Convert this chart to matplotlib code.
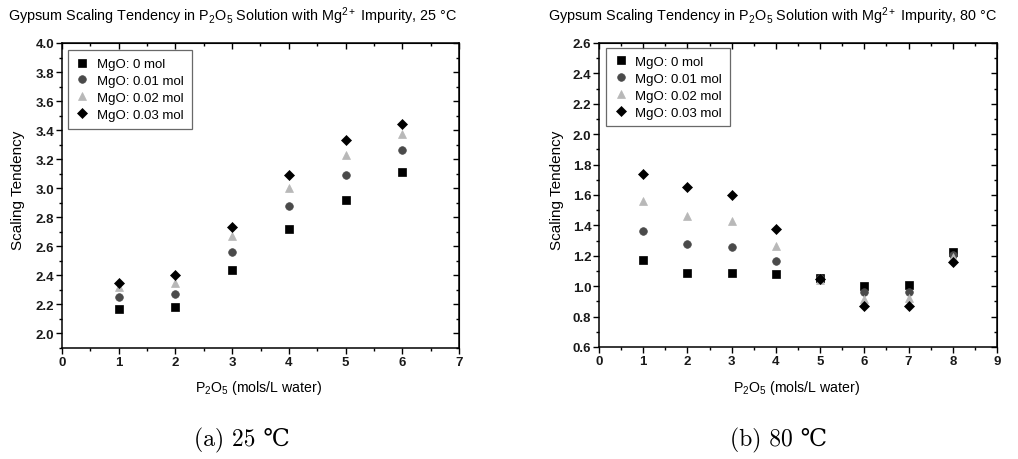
import matplotlib
matplotlib.use("Agg")
import matplotlib.pyplot as plt
from matplotlib.ticker import MultipleLocator

plt.rcParams['font.family'] = ['Liberation Sans', 'DejaVu Sans']
plt.rcParams['mathtext.fontset'] = 'custom'
plt.rcParams['mathtext.rm'] = 'Liberation Sans'
plt.rcParams['mathtext.it'] = 'Liberation Sans'

# ---------------- data ----------------
series_labels = ["MgO: 0 mol", "MgO: 0.01 mol", "MgO: 0.02 mol", "MgO: 0.03 mol"]

x_25 = [1, 2, 3, 4, 5, 6]
y25_mg000 = [2.17, 2.18, 2.44, 2.72, 2.92, 3.11]
y25_mg001 = [2.25, 2.27, 2.56, 2.875, 3.09, 3.26]
y25_mg002 = [2.32, 2.345, 2.67, 3.005, 3.23, 3.37]
y25_mg003 = [2.35, 2.40, 2.73, 3.09, 3.33, 3.44]

x_80 = [1, 2, 3, 4, 5, 6, 7, 8]
y80_mg000 = [1.175, 1.085, 1.085, 1.082, 1.055, 1.00, 1.007, 1.227]
y80_mg001 = [1.365, 1.276, 1.256, 1.166, 1.055, 0.963, 0.963, 1.205]
y80_mg002 = [1.558, 1.463, 1.430, 1.267, 1.038, 0.919, 0.924, 1.194]
y80_mg003 = [1.741, 1.651, 1.598, 1.375, 1.05, 0.873, 0.873, 1.157]

xticks_25 = ["0", "1", "2", "3", "4", "5", "6", "7"]
yticks_25 = ["2.0", "2.2", "2.4", "2.6", "2.8", "3.0", "3.2", "3.4", "3.6", "3.8", "4.0"]
xticks_80 = ["0", "1", "2", "3", "4", "5", "6", "7", "8", "9"]
yticks_80 = ["0.6", "0.8", "1.0", "1.2", "1.4", "1.6", "1.8", "2.0", "2.2", "2.4", "2.6"]

title_25 = r"Gypsum Scaling Tendency in P$_2$O$_5$ Solution with Mg$^{2+}$ Impurity, 25 °C"
title_80 = r"Gypsum Scaling Tendency in P$_2$O$_5$ Solution with Mg$^{2+}$ Impurity, 80 °C"
xlabel_txt = r"P$_2$O$_5$ (mols/L water)"
ylabel_txt = "Scaling Tendency"
caption_a = "(a) 25 \u2103"
caption_b = "(b) 80 \u2103"

# ---------------- style ----------------
styles = [
    dict(marker='s', color='black', ms=5.5),
    dict(marker='o', color='#4a4a4a', ms=5.5),
    dict(marker='^', color='#b8b8b8', ms=5.5),
    dict(marker='D', color='black', ms=5.5),
]

W, H = 1018, 460
fig = plt.figure(figsize=(W / 100, H / 100), dpi=100)


def px_axes(l, t, r, b):
    return fig.add_axes([l / W, 1 - b / H, (r - l) / W, (b - t) / H])


def style_axes(ax, xmax, ymin, ymax, xlabels, ylabels):
    ax.set_xlim(0, xmax)
    ax.set_ylim(ymin, ymax)
    xpos = [float(t) for t in xlabels]
    ypos = [float(t) for t in ylabels]
    ax.set_xticks(xpos, xlabels, fontweight='bold', fontsize=9.5, color='#1a1a1a')
    ax.set_yticks(ypos, ylabels, fontweight='bold', fontsize=9.5, color='#1a1a1a')
    ax.xaxis.set_minor_locator(MultipleLocator(0.5))
    ax.yaxis.set_minor_locator(MultipleLocator(0.1))
    ax.tick_params(which='both', direction='out', top=False, right=False,
                   width=1.0, pad=1.5)
    ax.tick_params(which='major', length=4)
    ax.tick_params(which='minor', length=2.5)
    for s in ax.spines.values():
        s.set_linewidth(1.1)
    top = ax.secondary_xaxis('top')
    top.set_xticks(xpos)
    top.xaxis.set_minor_locator(MultipleLocator(0.5))
    top.tick_params(which='both', direction='in', labeltop=False, width=1.0)
    top.tick_params(which='major', length=4)
    top.tick_params(which='minor', length=2.5)
    right = ax.secondary_yaxis('right')
    right.set_yticks(ypos)
    right.yaxis.set_minor_locator(MultipleLocator(0.1))
    right.tick_params(which='both', direction='in', labelright=False, width=1.0)
    right.tick_params(which='major', length=4)
    right.tick_params(which='minor', length=2.5)


def plot_series(ax, x, ys):
    for y, st, lab in zip(ys, styles, series_labels):
        ax.plot(x, y, linestyle='none', marker=st['marker'], color=st['color'],
                markersize=st['ms'], markeredgewidth=0.5, label=lab)


def add_legend(ax, anchor):
    leg = ax.legend(loc='upper left', bbox_to_anchor=anchor, borderaxespad=0,
                    fontsize=9.5, frameon=True, fancybox=False,
                    handlelength=1.0, handletextpad=0.6, labelspacing=0.35, borderpad=0.6)
    leg.get_frame().set_edgecolor('#444444')
    leg.get_frame().set_linewidth(0.9)
    return leg


# Left panel
ax1 = px_axes(62, 44, 459, 349)
plot_series(ax1, x_25, [y25_mg000, y25_mg001, y25_mg002, y25_mg003])
style_axes(ax1, 7, 1.9, 4.0, xticks_25, yticks_25)
add_legend(ax1, (0.015, 0.977))

# Right panel
ax2 = px_axes(599, 44, 997, 348)
plot_series(ax2, x_80, [y80_mg000, y80_mg001, y80_mg002, y80_mg003])
style_axes(ax2, 9, 0.6, 2.6, xticks_80, yticks_80)
add_legend(ax2, (0.0176, 0.984))

# Titles
fig.text(8 / W, 1 - 16 / H, title_25, fontsize=10.4, ha='left', va='center')
fig.text(548 / W, 1 - 16 / H, title_80, fontsize=10.4, ha='left', va='center')

# Axis labels
for yl_x in (18, 557):
    fig.text(yl_x / W, 1 - 190 / H, ylabel_txt, rotation=90, fontsize=11,
             ha='center', va='center')

fig.text(259 / W, 1 - 388 / H, xlabel_txt, fontsize=10.2, ha='center', va='center')
fig.text(797 / W, 1 - 388 / H, xlabel_txt, fontsize=10.2, ha='center', va='center')

# Captions
fig.text(242 / W, 1 - 440 / H, caption_a, fontsize=17, ha='center', va='center',
         family=['cmr10', 'DejaVu Serif'])
fig.text(778 / W, 1 - 440 / H, caption_b, fontsize=17, ha='center', va='center',
         family=['cmr10', 'DejaVu Serif'])

fig.savefig("out.png", dpi=100)
